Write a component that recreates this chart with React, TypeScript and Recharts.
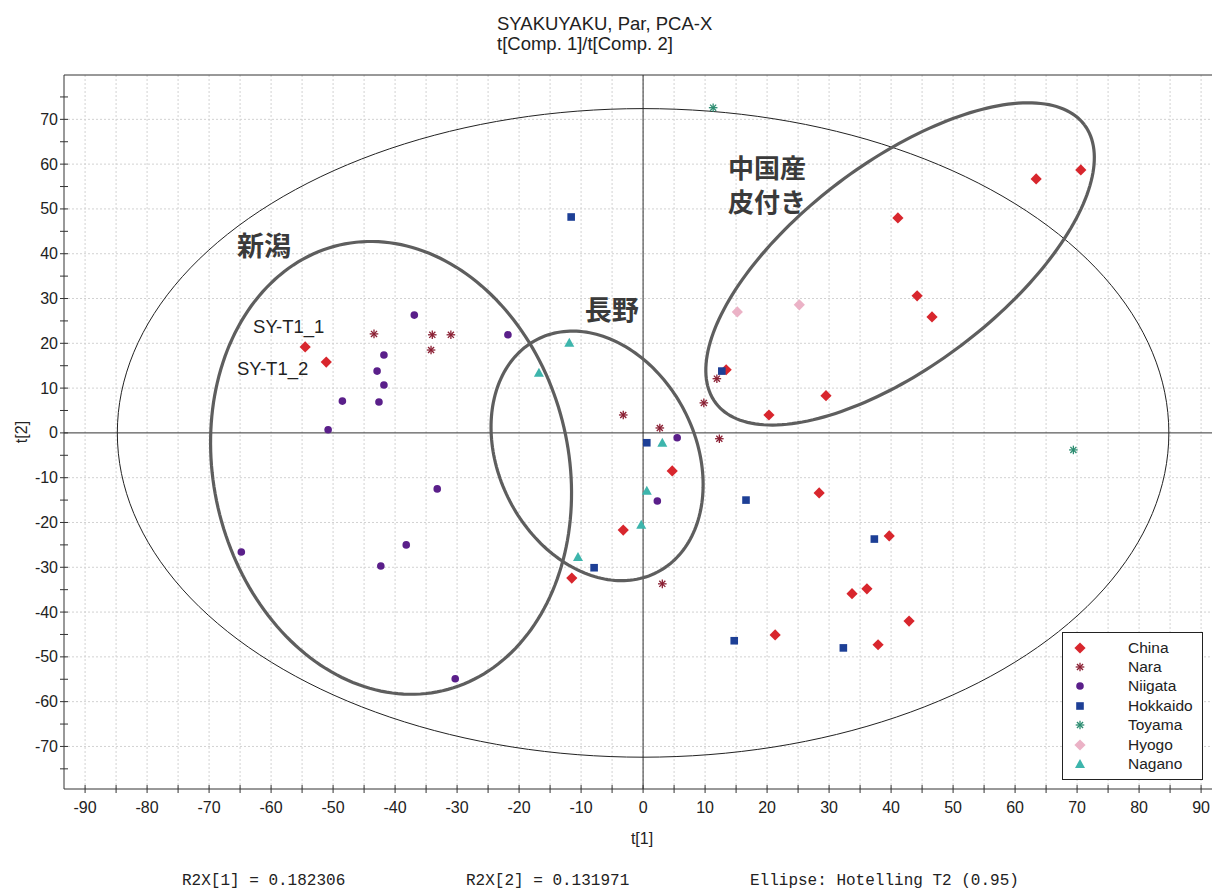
import React from "react";
import {
  ScatterChart,
  Scatter,
  XAxis,
  YAxis,
  CartesianGrid,
  ReferenceLine,
  ReferenceDot,
  Legend,
} from "recharts";

// score values t[1], t[2] per origin group
const china = [
  { x: -54.5, y: 19.2 },
  { x: -51.1, y: 15.8 },
  { x: 70.6, y: 58.7 },
  { x: 63.4, y: 56.7 },
  { x: 41.1, y: 48.0 },
  { x: 44.2, y: 30.6 },
  { x: 46.6, y: 25.9 },
  { x: 29.5, y: 8.3 },
  { x: 20.3, y: 4.0 },
  { x: 13.4, y: 14.1 },
  { x: 4.7, y: -8.5 },
  { x: -3.2, y: -21.7 },
  { x: -11.5, y: -32.4 },
  { x: 28.4, y: -13.4 },
  { x: 39.7, y: -23.0 },
  { x: 33.7, y: -35.9 },
  { x: 36.1, y: -34.8 },
  { x: 42.9, y: -42.0 },
  { x: 21.3, y: -45.1 },
  { x: 37.9, y: -47.3 },
];

const nara = [
  { x: -43.4, y: 22.1 },
  { x: -34.0, y: 21.9 },
  { x: -31.0, y: 21.9 },
  { x: -34.2, y: 18.5 },
  { x: -3.2, y: 4.0 },
  { x: 2.7, y: 1.1 },
  { x: 3.1, y: -33.7 },
  { x: 9.8, y: 6.7 },
  { x: 11.9, y: 12.1 },
  { x: 12.3, y: -1.3 },
];

const niigata = [
  { x: -36.9, y: 26.3 },
  { x: -21.8, y: 21.9 },
  { x: -41.8, y: 17.4 },
  { x: -42.9, y: 13.8 },
  { x: -41.8, y: 10.7 },
  { x: -48.5, y: 7.1 },
  { x: -42.6, y: 6.9 },
  { x: -50.8, y: 0.7 },
  { x: -64.8, y: -26.6 },
  { x: -33.2, y: -12.5 },
  { x: -38.2, y: -25.0 },
  { x: -42.3, y: -29.7 },
  { x: -30.3, y: -54.9 },
  { x: 5.5, y: -1.1 },
  { x: 2.3, y: -15.2 },
];

const hokkaido = [
  { x: -11.6, y: 48.2 },
  { x: 0.6, y: -2.2 },
  { x: -7.9, y: -30.1 },
  { x: 16.6, y: -15.0 },
  { x: 12.7, y: 13.8 },
  { x: 37.3, y: -23.7 },
  { x: 14.7, y: -46.4 },
  { x: 32.3, y: -48.0 },
];

const toyama = [
  { x: 11.3, y: 72.6 },
  { x: 69.4, y: -3.8 },
];

const hyogo = [
  { x: 15.2, y: 27.0 },
  { x: 25.2, y: 28.6 },
];

const nagano = [
  { x: -11.9, y: 20.1 },
  { x: -16.8, y: 13.4 },
  { x: 3.1, y: -2.2 },
  { x: 0.6, y: -12.9 },
  { x: -0.3, y: -20.5 },
  { x: -10.5, y: -27.7 },
];

const groups = [
  { name: "China", data: china, kind: "diamond", color: "#d8262d" },
  { name: "Nara", data: nara, kind: "star", color: "#8a1f33" },
  { name: "Niigata", data: niigata, kind: "circle", color: "#5a1f8a" },
  { name: "Hokkaido", data: hokkaido, kind: "square", color: "#1d3f96" },
  { name: "Toyama", data: toyama, kind: "star", color: "#2b8c70" },
  { name: "Hyogo", data: hyogo, kind: "diamond", color: "#ebb2c6" },
  { name: "Nagano", data: nagano, kind: "triangle", color: "#3db5ac" },
];

// ellipses: centre plus two conjugate half-axis vectors, in t[1]/t[2] units
const hotelling = { cx: 0, cy: 0, ux: 84.8, uy: 0, vx: 0, vy: 72.4 };
const groupEllipses = [
  { cx: -40.65, cy: -7.81, ux: 8.31, uy: -49.75, vx: -27.9, vy: -8.93 },
  { cx: -7.42, cy: -5.13, ux: 9.71, uy: -25.96, vx: -14.08, vy: -10.09 },
  { cx: 41.45, cy: 37.72, ux: 29.73, uy: 31.05, vx: 9.89, vy: -18.15 },
];

const xTicks = [
  -90, -85, -80, -75, -70, -65, -60, -55, -50, -45, -40, -35, -30, -25, -20,
  -15, -10, -5, 0, 5, 10, 15, 20, 25, 30, 35, 40, 45, 50, 55, 60, 65, 70, 75,
  80, 85, 90,
];
const yTicks = [
  -75, -70, -65, -60, -55, -50, -45, -40, -35, -30, -25, -20, -15, -10, -5, 0,
  5, 10, 15, 20, 25, 30, 35, 40, 45, 50, 55, 60, 65, 70, 75,
];
const yGrid = [-70, -60, -50, -40, -30, -20, -10, 10, 20, 30, 40, 50, 60, 70];

const xDomain = [-93.4, 93.05];
const yDomain = [-79.5, 79.9];

const notes = [
  { x: -65.5, y: 39.5, text: "新潟", size: 27, jp: true },
  { x: -9.4, y: 25.2, text: "長野", size: 27, jp: true },
  { x: 13.7, y: 56.9, text: "中国産", size: 26, jp: true },
  { x: 13.7, y: 49.4, text: "皮付き", size: 26, jp: true },
  { x: -62.9, y: 22.3, text: "SY-T1_1", size: 18.5, jp: false },
  { x: -65.5, y: 12.9, text: "SY-T1_2", size: 18.5, jp: false },
];

const SANS = "'Liberation Sans', Arial, sans-serif";
const JP = "'Noto Sans CJK JP', sans-serif";

function ellipsePoints(e: typeof hotelling) {
  const pts = [];
  for (let i = 0; i <= 200; i++) {
    const t = (i / 200) * Math.PI * 2;
    pts.push({
      x: e.cx + Math.cos(t) * e.ux + Math.sin(t) * e.vx,
      y: e.cy + Math.cos(t) * e.uy + Math.sin(t) * e.vy,
    });
  }
  return pts;
}

function Marker({ kind, color, cx, cy }: any) {
  if (kind === "diamond") {
    const s = 5.6;
    return (
      <polygon
        points={`${cx},${cy - s} ${cx + s},${cy} ${cx},${cy + s} ${cx - s},${cy}`}
        fill={color}
      />
    );
  }
  if (kind === "circle") return <circle cx={cx} cy={cy} r={3.8} fill={color} />;
  if (kind === "square")
    return <rect x={cx - 3.8} y={cy - 3.8} width={7.6} height={7.6} fill={color} />;
  if (kind === "triangle")
    return (
      <polygon
        points={`${cx},${cy - 5} ${cx + 5},${cy + 4} ${cx - 5},${cy + 4}`}
        fill={color}
      />
    );
  const r = 4.3;
  const d = r * 0.707;
  return (
    <g stroke={color} strokeWidth={1.3}>
      <line x1={cx} y1={cy - r} x2={cx} y2={cy + r} />
      <line x1={cx - r} y1={cy} x2={cx + r} y2={cy} />
      <line x1={cx - d} y1={cy - d} x2={cx + d} y2={cy + d} />
      <line x1={cx - d} y1={cy + d} x2={cx + d} y2={cy - d} />
    </g>
  );
}

function XTick({ x, y, payload }: any) {
  const v = payload.value;
  return (
    <g>
      <line x1={x} x2={x} y1={y - 4} y2={y + 4} stroke="#333" />
      {v % 10 === 0 && (
        <text x={x} y={y + 24} textAnchor="middle" fontSize={16} fill="#222" fontFamily={SANS}>
          {v}
        </text>
      )}
    </g>
  );
}

function YTick({ x, y, payload }: any) {
  const v = payload.value;
  return (
    <g>
      <line x1={x - 4} x2={x + 4} y1={y} y2={y} stroke="#333" />
      {v % 10 === 0 && (
        <text x={x - 6} y={y + 5.5} textAnchor="end" fontSize={16} fill="#222" fontFamily={SANS}>
          {v}
        </text>
      )}
    </g>
  );
}

function LegendBox() {
  return (
    <div
      style={{
        border: "1.5px solid #222",
        background: "#fff",
        width: 141,
        padding: "5px 0",
        boxSizing: "border-box",
      }}
    >
      {groups.map((g) => (
        <div key={g.name} style={{ display: "flex", alignItems: "center", height: 19.4 }}>
          <svg width={34} height={18} style={{ display: "block" }}>
            <Marker kind={g.kind} color={g.color} cx={17} cy={9} />
          </svg>
          <span
            style={{
              marginLeft: 31,
              fontFamily: SANS,
              fontSize: 15.5,
              color: "#222",
              lineHeight: "18px",
            }}
          >
            {g.name}
          </span>
        </div>
      ))}
    </div>
  );
}

export default function App() {
  return (
    <div
      style={{
        position: "absolute",
        left: 0,
        top: 0,
        width: 1212,
        height: 891,
        overflow: "hidden",
        background: "#fff",
      }}
    >
      <ScatterChart
        width={1230}
        height={891}
        margin={{ top: 75, left: 4, right: 10, bottom: 62 }}
      >
        <CartesianGrid
          horizontal={false}
          stroke="#d2d2d2"
          strokeDasharray="2 2"
          verticalValues={xTicks}
        />
        {yGrid.map((v) => (
          <ReferenceLine key={v} y={v} stroke="#d2d2d2" strokeDasharray="2 2" />
        ))}
        <ReferenceLine x={0} stroke="#333" />
        <ReferenceLine y={0} stroke="#333" />
        <ReferenceLine y={yDomain[1]} stroke="#333" />
        <XAxis
          type="number"
          dataKey="x"
          domain={xDomain}
          allowDataOverflow
          ticks={xTicks}
          interval={0}
          height={40}
          tickSize={0}
          tickMargin={0}
          tick={<XTick />}
          axisLine={{ stroke: "#333" }}
        />
        <YAxis
          type="number"
          dataKey="y"
          domain={yDomain}
          allowDataOverflow
          ticks={yTicks}
          interval={0}
          width={60}
          tickSize={0}
          tickMargin={0}
          tick={<YTick />}
          axisLine={{ stroke: "#333" }}
        />
        <Scatter
          data={ellipsePoints(hotelling)}
          line={{ stroke: "#222", strokeWidth: 1 }}
          shape={() => <g />}
          legendType="none"
          isAnimationActive={false}
        />
        {groupEllipses.map((e, i) => (
          <Scatter
            key={i}
            data={ellipsePoints(e)}
            line={{ stroke: "#5e5e5e", strokeWidth: 3.2 }}
            shape={() => <g />}
            legendType="none"
            isAnimationActive={false}
          />
        ))}
        {groups.map((g) => (
          <Scatter
            key={g.name}
            name={g.name}
            data={g.data}
            isAnimationActive={false}
            shape={(p: any) => <Marker kind={g.kind} color={g.color} cx={p.cx} cy={p.cy} />}
          />
        ))}
        {notes.map((n) => (
          <ReferenceDot
            key={n.text}
            x={n.x}
            y={n.y}
            r={0}
            shape={(p: any) => (
              <text
                x={p.cx}
                y={p.cy}
                fontSize={n.size}
                fontFamily={n.jp ? JP : SANS}
                fontWeight={n.jp ? 700 : 400}
                fill={n.jp ? "#3a3a3a" : "#222"}
              >
                {n.text}
              </text>
            )}
          />
        ))}
        <Legend
          verticalAlign="middle"
          align="center"
          layout="horizontal"
          wrapperStyle={{ position: "absolute", left: 1062, top: 632, width: "auto" }}
          content={() => <LegendBox />}
        />
      </ScatterChart>
      <svg
        width={1212}
        height={891}
        style={{ position: "absolute", left: 0, top: 0, pointerEvents: "none" }}
      >
        <text x={497} y={30} fontSize={18.5} fontFamily={SANS} fill="#222">
          SYAKUYAKU, Par, PCA-X
        </text>
        <text x={497} y={50} fontSize={18.5} fontFamily={SANS} fill="#222">
          t[Comp. 1]/t[Comp. 2]
        </text>
        <text
          x={21}
          y={432}
          fontSize={16}
          fontFamily={SANS}
          fill="#222"
          textAnchor="middle"
          dominantBaseline="central"
          transform="rotate(-90 21 432)"
        >
          t[2]
        </text>
        <text x={642} y={844} fontSize={16} fontFamily={SANS} fill="#222" textAnchor="middle">
          t[1]
        </text>
        <g fontFamily="'Liberation Mono', 'Courier New', monospace" fontSize={16} fill="#222">
          <text x={182} y={885} xmlSpace="preserve">R2X[1] = 0.182306</text>
          <text x={466} y={885} xmlSpace="preserve">R2X[2] = 0.131971</text>
          <text x={750} y={885} xmlSpace="preserve">Ellipse: Hotelling T2 (0.95)</text>
        </g>
      </svg>
    </div>
  );
}
